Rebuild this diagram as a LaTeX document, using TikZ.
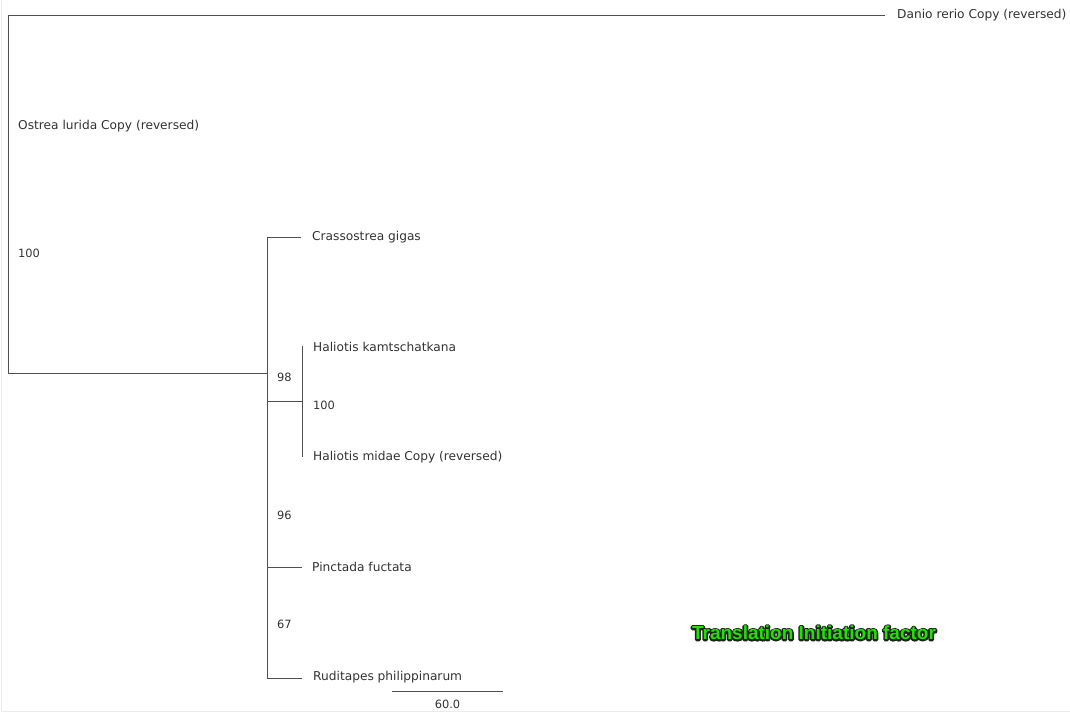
\documentclass[tikz,border=0pt]{standalone}
\usepackage{fontspec}
\setmainfont{DejaVu Sans}
\newfontfamily\titlefont{Liberation Sans}
\definecolor{branch}{HTML}{505050}
\definecolor{labeltxt}{HTML}{333333}
\definecolor{brightgreen}{HTML}{22E000}
\newcommand{\glowtext}[1]{%
  \rlap{\textcolor{black!88}{\special{pdf:literal direct 2 Tr 3.2 w 1 j}#1\special{pdf:literal direct 0 Tr}}}%
  \textcolor{brightgreen}{#1}}
\begin{document}
\begin{tikzpicture}[x=1pt,y=-1pt,
  branchline/.style={draw=branch,line width=1pt},
  taxon/.style={anchor=west,inner sep=0pt,text=labeltxt,font=\fontsize{12.2}{14}\selectfont},
  support/.style={anchor=west,inner sep=0pt,text=labeltxt,font=\fontsize{11.4}{13}\selectfont}]
\useasboundingbox (0,0) rectangle (1070,713);
\fill[white] (0,0) rectangle (1070,713);
\draw[black!8,line width=1.2pt] (1.5,0) -- (1.5,711.5) -- (1070,711.5);
% coordinates
\coordinate (rootTop) at (8.5,15);
\coordinate (rootBot) at (8.5,373);
\coordinate (danioEnd) at (885,15);
\coordinate (innerJoin) at (267.5,373);
\coordinate (innerTop) at (267.5,237);
\coordinate (innerBot) at (267.5,678);
\coordinate (crasEnd) at (301,237);
\coordinate (halJoinL) at (267.5,401);
\coordinate (halJoin) at (302.5,401);
\coordinate (halTop) at (302.5,346);
\coordinate (halBot) at (302.5,457);
\coordinate (pincL) at (267.5,567);
\coordinate (pincEnd) at (302,567);
\coordinate (rudEnd) at (302,678);
\coordinate (scaleL) at (392,691);
\coordinate (scaleR) at (503,691);
% branches
\draw[branchline] (danioEnd) -- (rootTop) -- (rootBot) -- (innerJoin);
\draw[branchline] (crasEnd) -- (innerTop) -- (innerBot) -- (rudEnd);
\draw[branchline] (halJoinL) -- (halJoin);
\draw[branchline] (halTop) -- (halBot);
\draw[branchline] (pincL) -- (pincEnd);
\draw[branchline] (scaleL) -- (scaleR);
% taxa
\node[taxon] (danio) at (897,15) {Danio rerio Copy (reversed)};
\node[taxon] (ostrea) at (18,126) {Ostrea lurida Copy (reversed)};
\node[taxon] (cras) at (312,237) {Crassostrea gigas};
\node[taxon] (halk) at (313,347) {Haliotis kamtschatkana};
\node[taxon] (halm) at (313,457) {Haliotis midae Copy (reversed)};
\node[taxon] (pinc) at (312,567) {Pinctada fuctata};
\node[taxon] (rud) at (313,677) {Ruditapes philippinarum};
% support values
\node[support] (s1) at (18,253) {100};
\node[support] (s2) at (277,377) {98};
\node[support] (s3) at (313,405) {100};
\node[support] (s4) at (277,515) {96};
\node[support] (s5) at (277,624) {67};
\node[support,anchor=center] (scale) at (447.5,704.5) {60.0};
% title with dark outline
\node[inner sep=0pt,font=\titlefont\bfseries\fontsize{19}{21}\selectfont] (title) at (814,633) {\glowtext{Translation Initiation factor}};
\end{tikzpicture}
\end{document}
